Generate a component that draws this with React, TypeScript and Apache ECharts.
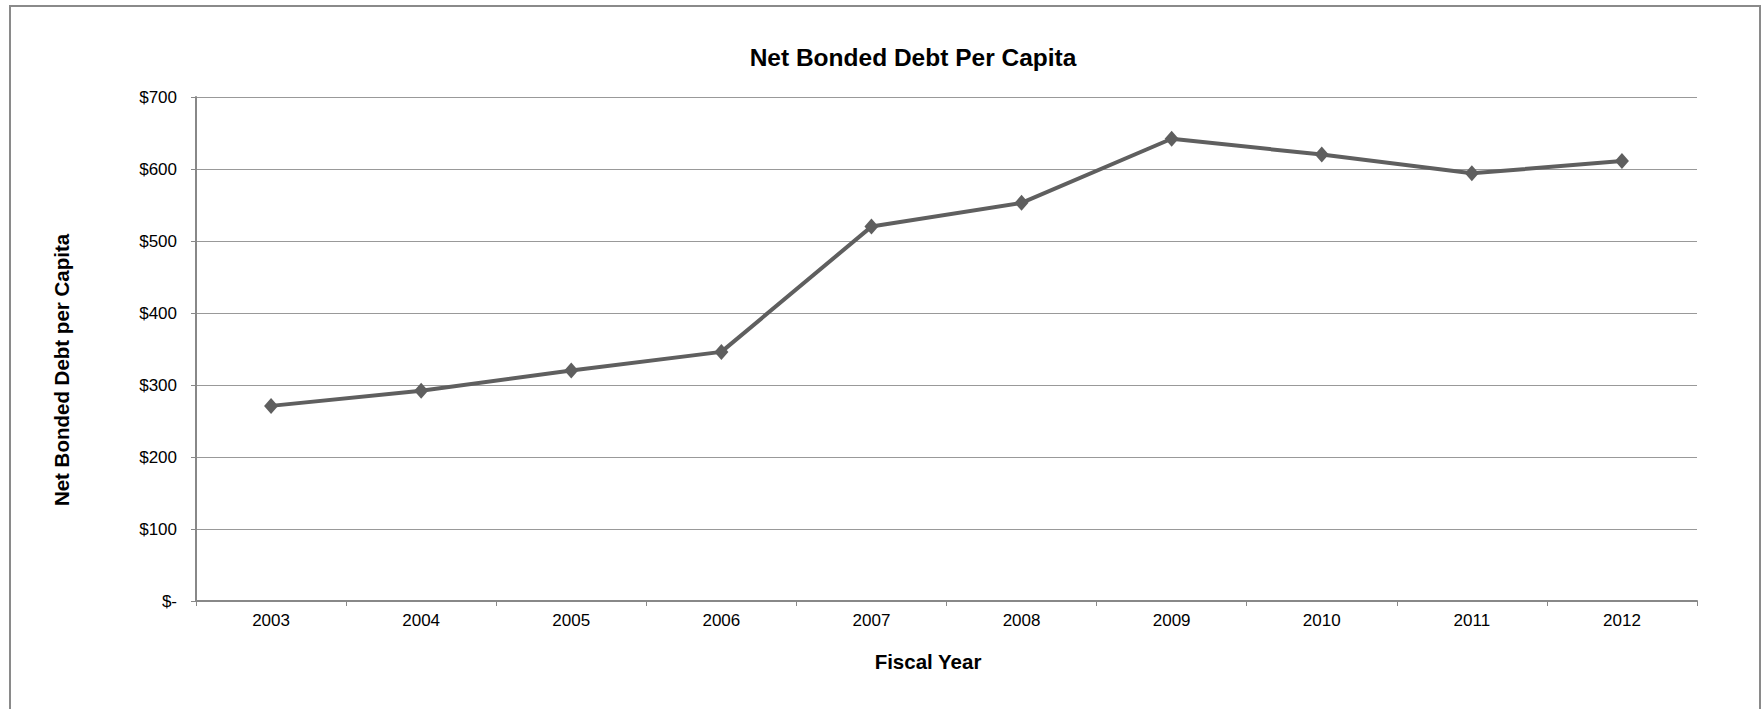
import React, { useEffect, useRef } from "react";
import * as echarts from "echarts";

const years = ["2003", "2004", "2005", "2006", "2007", "2008", "2009", "2010", "2011", "2012"];
const debtPerCapita = [271, 292, 320, 346, 520, 553, 642, 620, 594, 611];
const chartTitle = "Net Bonded Debt Per Capita";
const yTitle = "Net Bonded Debt per Capita";
const xTitle = "Fiscal Year";

export default function App() {
  const ref = useRef<HTMLDivElement>(null);
  useEffect(() => {
    if (!ref.current) return;
    const chart = echarts.init(ref.current, null, { renderer: "svg" });
    const font = "Liberation Sans, Arial, sans-serif";
    chart.setOption({
      animation: false,
      backgroundColor: "#ffffff",
      textStyle: { fontFamily: font },
      title: {
        text: chartTitle,
        left: 908,
        top: 40,
        textAlign: "center",
        textStyle: { fontSize: 24.5, fontWeight: "bold", color: "#000", fontFamily: font },
      },
      grid: { left: 196, right: 64, top: 97, bottom: 108, containLabel: false },
      xAxis: {
        type: "category",
        data: years,
        boundaryGap: true,
        axisLine: { lineStyle: { color: "#888", width: 2 } },
        axisTick: { show: true, interval: 0, length: 5, lineStyle: { color: "#888", width: 1 } },
        axisLabel: { color: "#000", fontSize: 17, margin: 11, fontFamily: font },
        splitLine: { show: false },
      },
      yAxis: {
        type: "value",
        min: 0,
        max: 700,
        interval: 100,
        axisLine: { show: true, lineStyle: { color: "#888", width: 2 } },
        axisTick: { show: true, length: 5, lineStyle: { color: "#888", width: 1 } },
        axisLabel: {
          color: "#000",
          fontSize: 17,
          margin: 19,
          fontFamily: font,
          formatter: (v: number) => (v === 0 ? "$-" : "$" + v),
        },
        splitLine: { show: true, lineStyle: { color: "#999", width: 1 } },
      },
      graphic: [
        {
          type: "rect",
          shape: { x: 10, y: 6, width: 1750, height: 760 },
          style: { fill: "none", stroke: "#8a8a8a", lineWidth: 2 },
          silent: true,
        },
        {
          type: "text",
          x: 61,
          y: 370,
          rotation: Math.PI / 2,
          style: {
            text: yTitle,
            fontSize: 20.5,
            fontWeight: "bold",
            fill: "#000",
            fontFamily: font,
            align: "center",
            verticalAlign: "middle",
          },
        },
        {
          type: "text",
          x: 928,
          y: 661,
          style: {
            text: xTitle,
            fontSize: 20.5,
            fontWeight: "bold",
            fill: "#000",
            fontFamily: font,
            align: "center",
            verticalAlign: "middle",
          },
        },
      ],
      series: [
        {
          type: "line",
          data: debtPerCapita,
          symbol: "diamond",
          symbolSize: [14, 16],
          showSymbol: true,
          lineStyle: { color: "#5f5f5f", width: 4 },
          itemStyle: { color: "#5f5f5f" },
        },
      ],
    });
    return () => chart.dispose();
  }, []);
  return (
    <div
      ref={ref}
      style={{ position: "absolute", left: 0, top: 0, width: 1761, height: 709 }}
    />
  );
}
